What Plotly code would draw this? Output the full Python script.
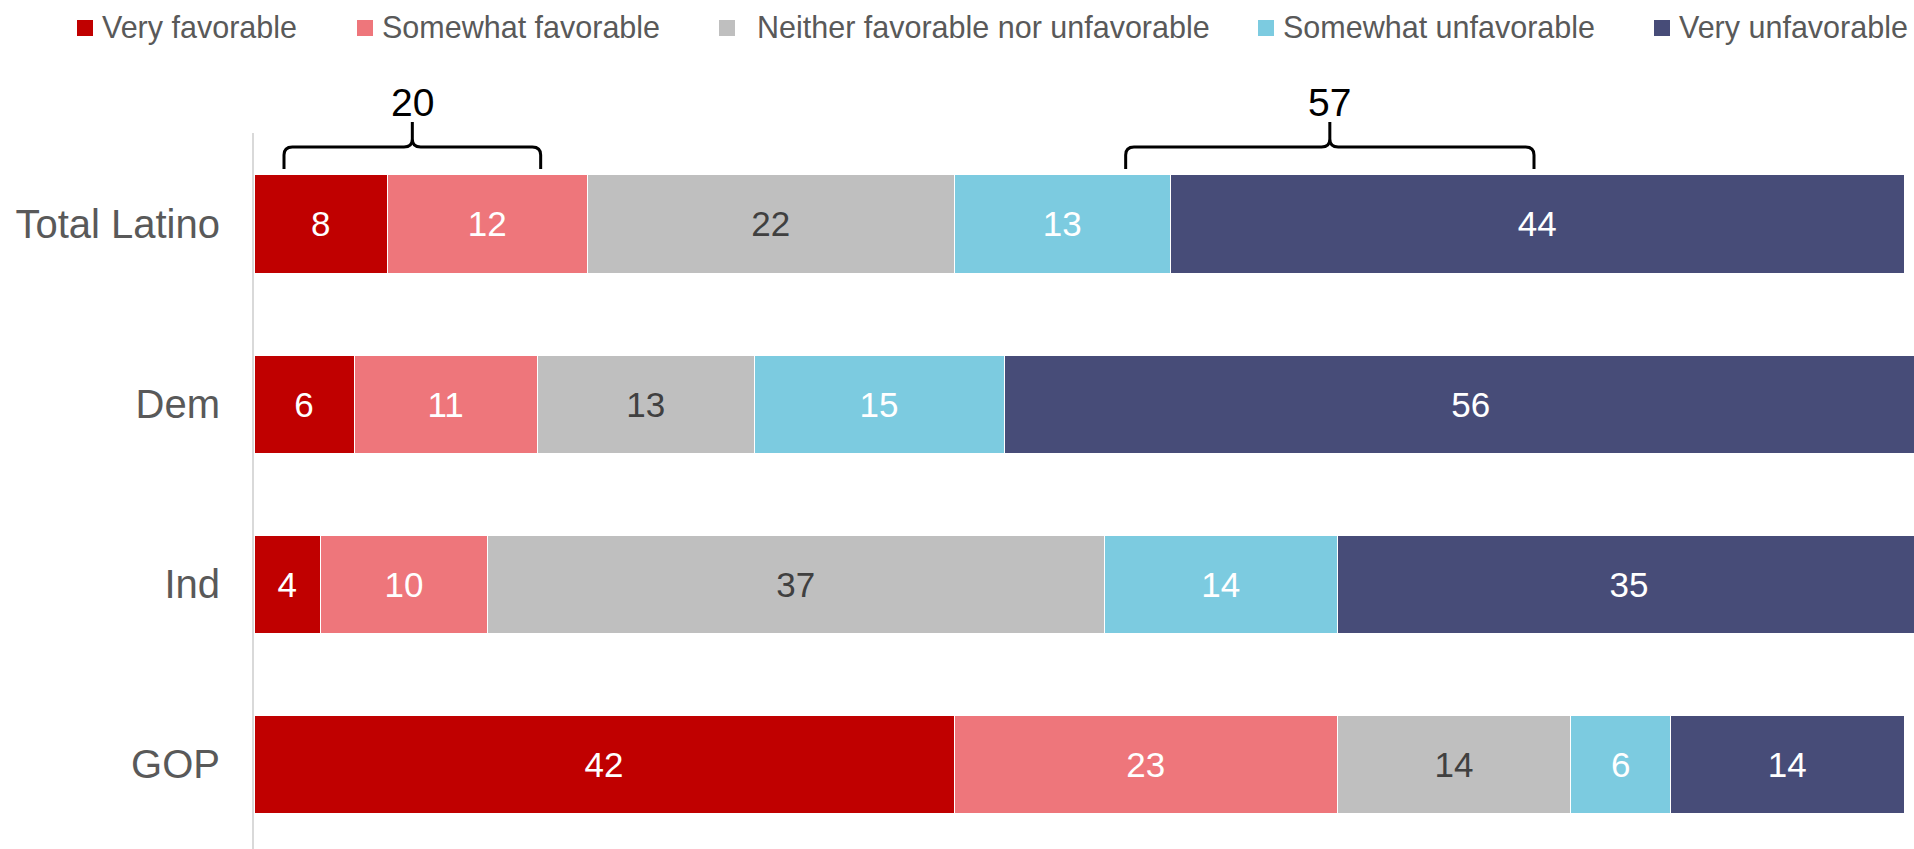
import plotly.graph_objects as go

# data
groups = ["Total Latino", "Dem", "Ind", "GOP"]
very_fav = [8, 6, 4, 42]
somewhat_fav = [12, 11, 10, 23]
neither = [22, 13, 37, 14]
somewhat_unfav = [13, 15, 14, 6]
very_unfav = [44, 56, 35, 14]

names = ["Very favorable", "Somewhat favorable", "Neither favorable nor unfavorable",
         "Somewhat unfavorable", "Very unfavorable"]
colors = ["#C00000", "#EE767B", "#BFBFBF", "#7CCBE0", "#474C78"]
text_colors = ["white", "white", "#404040", "white", "white"]
series = [very_fav, somewhat_fav, neither, somewhat_unfav, very_unfav]

W, H = 1914, 849
L, T = 254, 133
FONT = "Liberation Sans, Arial, sans-serif"


def px_x(p):
    return (p - L) / (W - L)


def px_y(p):
    return (H - p) / (H - T)


fig = go.Figure()
for name, vals, col, tcol in zip(names, series, colors, text_colors):
    fig.add_trace(go.Bar(
        y=groups, x=vals, name=name, orientation="h",
        marker=dict(color=col, line=dict(color="white", width=1)),
        text=vals, textposition="inside", insidetextanchor="middle",
        textangle=0, textfont=dict(color=tcol, size=35, family=FONT),
        width=0.545, showlegend=False,
    ))

# hand-drawn legend
leg_marker = [77, 357, 719, 1258, 1654]
leg_text = [100, 380, 755, 1281, 1677]
shapes = []
annotations = []
for name, col, mx, tx in zip(names, colors, leg_marker, leg_text):
    shapes.append(dict(type="rect", xref="paper", yref="paper",
                       x0=px_x(mx), x1=px_x(mx + 16), y0=px_y(36), y1=px_y(20),
                       fillcolor=col, line=dict(width=0)))
    annotations.append(dict(text=name, xref="paper", yref="paper",
                            x=px_x(tx), y=px_y(27), xanchor="left", yanchor="middle",
                            showarrow=False, font=dict(size=30.5, color="#595959", family=FONT)))

# net brackets over the Total Latino bar
fav_net = very_fav[0] + somewhat_fav[0]
unfav_net = somewhat_unfav[0] + very_unfav[0]
brackets = [(1.8, 17.2, fav_net), (52.3, 76.8, unfav_net)]
yb, yh, yt = px_y(169), px_y(147), px_y(122)
rx, ry = 0.5, 8 / (H - T)
for x0, x1, lab in brackets:
    xm = (x0 + x1) / 2
    path = (f"M{x0},{yb} L{x0},{yh - ry} Q{x0},{yh} {x0 + rx},{yh} "
            f"L{xm - rx},{yh} Q{xm},{yh} {xm},{yh + ry} L{xm},{yt} "
            f"L{xm},{yh + ry} Q{xm},{yh} {xm + rx},{yh} "
            f"L{x1 - rx},{yh} Q{x1},{yh} {x1},{yh - ry} L{x1},{yb}")
    shapes.append(dict(type="path", xref="x", yref="paper", path=path,
                       line=dict(color="black", width=3)))
    annotations.append(dict(text=str(lab), xref="x", yref="paper", x=xm, y=px_y(102),
                            xanchor="center", yanchor="middle", showarrow=False,
                            font=dict(size=39, color="black", family=FONT)))

fig.update_layout(
    barmode="stack",
    width=W, height=H,
    margin=dict(l=L, r=0, t=T, b=0),
    plot_bgcolor="white", paper_bgcolor="white",
    font=dict(family=FONT),
    shapes=shapes, annotations=annotations,
    xaxis=dict(visible=False, range=[0, 99.6], fixedrange=True),
    yaxis=dict(categoryorder="array", categoryarray=groups, range=[3.47, -0.505],
               showline=True, linecolor="#D9D9D9", linewidth=2, showgrid=False,
               ticks="", ticklabelstandoff=24, fixedrange=True,
               tickfont=dict(size=40, color="#595959", family=FONT)),
)

# drop the default 8px body margin so the figure sits flush in the window
fig.write_html("out.html", config={"displayModeBar": False},
               post_script="document.body.style.margin='0';document.body.style.overflow='hidden';")
